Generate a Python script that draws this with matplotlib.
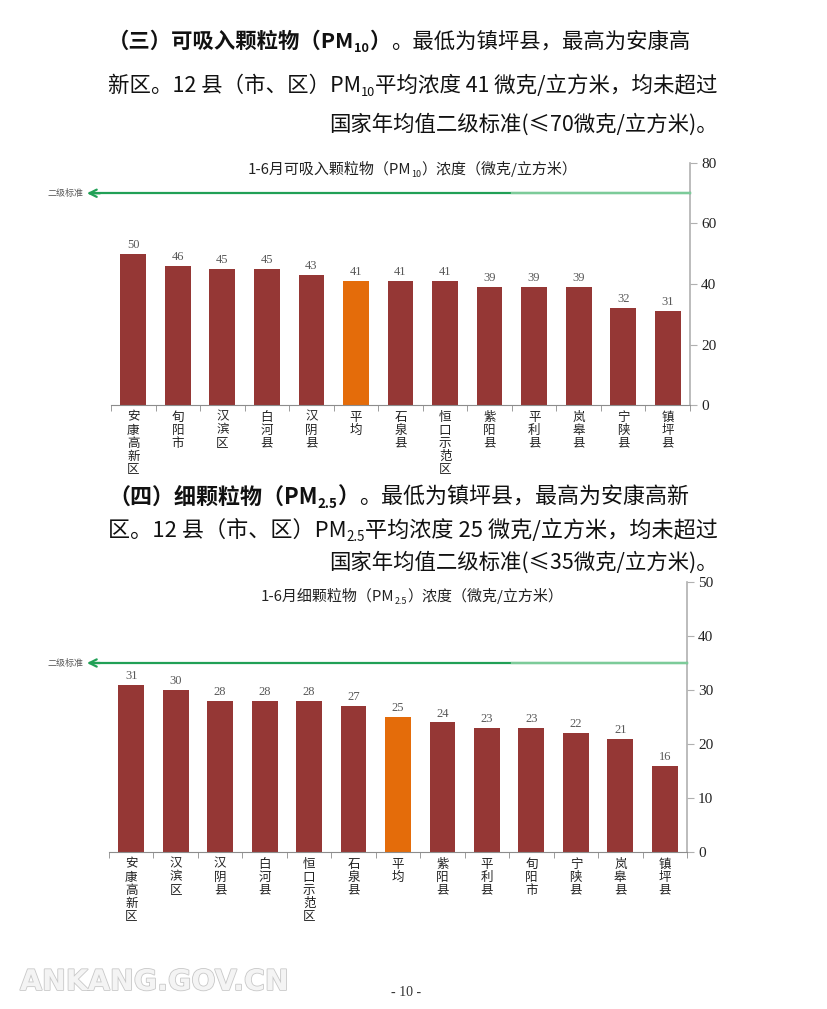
import numpy as np
import matplotlib
matplotlib.use('Agg')
import matplotlib.pyplot as plt
import matplotlib.transforms as mtransforms
import matplotlib.patheffects as pe

plt.rcParams['font.family'] = ['Noto Sans CJK SC', 'DejaVu Sans']

# ---------------- data ----------------
pm10_names = ['安康高新区', '旬阳市', '汉滨区', '白河县', '汉阴县', '平均', '石泉县',
              '恒口示范区', '紫阳县', '平利县', '岚皋县', '宁陕县', '镇坪县']
pm10_values = [50, 46, 45, 45, 43, 41, 41, 41, 39, 39, 39, 32, 31]
pm10_ticks = [0, 20, 40, 60, 80]
pm10_standard = 70

pm25_names = ['安康高新区', '汉滨区', '汉阴县', '白河县', '恒口示范区', '石泉县', '平均',
              '紫阳县', '平利县', '旬阳市', '宁陕县', '岚皋县', '镇坪县']
pm25_values = [31, 30, 28, 28, 28, 27, 25, 24, 23, 23, 22, 21, 16]
pm25_ticks = [0, 10, 20, 30, 40, 50]
pm25_standard = 35

avg_name = '平均'
standard_label = '二级标准'

para1 = [
    [('（三）可吸入颗粒物（PM', 'b'), ('10', 'bs'), ('）', 'b'), ('。最低为镇坪县，最高为安康高', 'n')],
    [('新区。12 县（市、区）PM', 'n'), ('10', 's'), ('平均浓度 41 微克/立方米，均未超过', 'n')],
    [('国家年均值二级标准(≤70微克/立方米)。', 'n')],
]
para2 = [
    [('（四）细颗粒物（PM', 'b'), ('2.5', 'bs'), ('）', 'b'), ('。最低为镇坪县，最高为安康高新', 'n')],
    [('区。12 县（市、区）PM', 'n'), ('2.5', 's'), ('平均浓度 25 微克/立方米，均未超过', 'n')],
    [('国家年均值二级标准(≤35微克/立方米)。', 'n')],
]
title1 = [('1-6月可吸入颗粒物（PM', 'n'), ('10', 's'), ('）浓度（微克/立方米）', 'n')]
title2 = [('1-6月细颗粒物（PM', 'n'), ('2.5', 's'), ('）浓度（微克/立方米）', 'n')]

# ---------------- figure ----------------
W, H = 827, 1009
fig = plt.figure(figsize=(W / 100, H / 100), dpi=100)
fig.patch.set_facecolor('white')
renderer = fig.canvas.get_renderer()


def fpos(x, y):
    return (x / W, 1 - y / H)


def make_segments(segments, size, color):
    arts = []
    total = 0
    for text, kind in segments:
        sub = 's' in kind
        fs = size * 0.6 if sub else size
        t = fig.text(0, 0, text, fontsize=fs,
                     fontweight='bold' if 'b' in kind else 'normal',
                     ha='left', va='baseline', color=color)
        w = t.get_window_extent(renderer).width
        arts.append((t, sub, w))
        total += w
    return arts, total


def draw_line(segments, y, size, x0=None, x1=None, xc=None, color='#111111'):
    arts, total = make_segments(segments, size, color)
    if x0 is not None and x1 is not None:
        size = size * (x1 - x0) / total
        for t, _, _ in arts:
            t.remove()
        arts, total = make_segments(segments, size, color)
    if x0 is not None:
        x = x0
    elif x1 is not None:
        x = x1 - total
    else:
        x = xc - total / 2
    for t, sub, w in arts:
        dy = size * 0.28 if sub else 0
        t.set_position(fpos(x, y + dy))
        x += w


# paragraphs
draw_line(para1[0], 48, 16, x0=108, x1=690)
draw_line(para1[1], 92, 16, x0=108, x1=718)
draw_line(para1[2], 131, 15.4, x1=718)
draw_line(para2[0], 504, 16, x0=108, x1=690)
draw_line(para2[1], 537, 16, x0=108, x1=718)
draw_line(para2[2], 569, 15.4, x1=718)

BAR = '#953735'
AVG = '#E46C0A'
GREEN = '#21A056'
LGREEN = '#7CCB99'
AXC = '#B0B0B0'


def draw_chart(rect, names, values, ticks, standard, title, title_y):
    ax = fig.add_axes(rect)
    x = np.arange(len(names))
    colors = [AVG if n == avg_name else BAR for n in names]
    ax.bar(x, values, width=0.58, color=colors, zorder=2)
    for xi, v in zip(x, values):
        ax.annotate(str(v), (xi, v), xytext=(0, 2), textcoords='offset points',
                    ha='center', va='bottom', fontsize=9, color='#595959',
                    family='Liberation Serif')
    ax.set_xlim(-0.5, len(names) - 0.5)
    ax.set_ylim(ticks[0], ticks[-1])
    ax.set_facecolor('none')
    for s in ('left', 'top'):
        ax.spines[s].set_visible(False)
    ax.spines['right'].set_color(AXC)
    ax.spines['right'].set_linewidth(1.2)
    ax.spines['bottom'].set_color('#8C8C8C')
    ax.yaxis.tick_right()
    ax.set_yticks(ticks)
    ax.set_yticklabels([str(t) for t in ticks], family='Liberation Serif', fontsize=11)
    ax.tick_params(axis='y', length=5, color=AXC, pad=3, labelcolor='#222222')
    ax.set_xticks(x)
    ax.set_xticklabels(['\n'.join(n) for n in names], fontsize=9, linespacing=1.0,
                       va='top', color='#222222')
    ax.tick_params(axis='x', which='major', length=0, pad=4)
    ax.set_xticks(np.arange(len(names) + 1) - 0.5, minor=True)
    ax.tick_params(axis='x', which='minor', length=4, color='#8C8C8C')

    blend = mtransforms.blended_transform_factory(fig.transFigure, ax.transData)
    right = rect[0] + rect[2]
    ax.plot([90 / W, right], [standard, standard], color=GREEN, lw=1.6,
            transform=blend, clip_on=False, zorder=3)
    ax.plot([512 / W, right], [standard, standard], color=LGREEN, lw=1.6,
            transform=blend, clip_on=False, zorder=3)
    ax.annotate('', xy=(87 / W, standard), xycoords=blend,
                xytext=(100 / W, standard), textcoords=blend,
                arrowprops=dict(arrowstyle='->', color=GREEN, lw=1.6,
                                mutation_scale=13, shrinkA=0, shrinkB=0))
    ax.text(84 / W, standard, standard_label, transform=blend, ha='right',
            va='center', fontsize=6.5, color='#555555')
    draw_line(title, title_y, 10.8, xc=412, color='#222222')
    return ax


draw_chart([111 / W, 1 - 405 / H, 579 / W, 242 / H], pm10_names, pm10_values,
           pm10_ticks, pm10_standard, title1, 174)
draw_chart([109 / W, 1 - 852 / H, 578 / W, 270 / H], pm25_names, pm25_values,
           pm25_ticks, pm25_standard, title2, 601)

# footer
fig.text(406 / W, 1 - 993 / H, '- 10 -', ha='center', va='center', fontsize=10,
         family='Liberation Serif', color='#333333')
fig.text(20 / W, 1 - 982 / H, 'ANKANG.GOV.CN', ha='left', va='center', fontsize=20.5,
         fontweight='bold', family='DejaVu Sans', color='#F4F4F4',
         path_effects=[pe.withStroke(linewidth=1.2, foreground='#C8C8C8')])

fig.savefig('out.png', dpi=100, facecolor='white')
